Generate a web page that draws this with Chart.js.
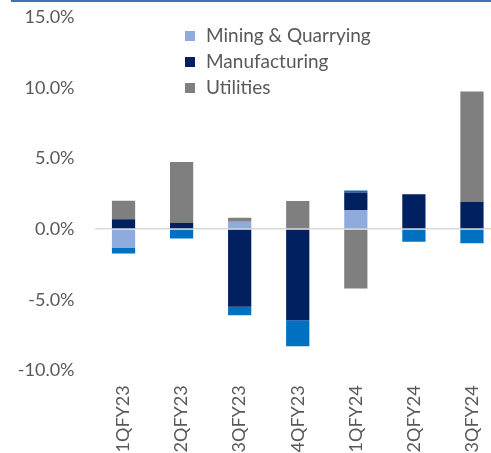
<!DOCTYPE html>
<html>
<head>
<meta charset="utf-8">
<script src="https://cdn.jsdelivr.net/npm/chart.js@4"></script>
<style>
    body { margin: 0; overflow: hidden; background: #fff; font-family: Lato, sans-serif; }
    .topline { position: absolute; left: 11px; top: 0; width: 480px; height: 2px; background: #4170B8; }
    .wrap { position: absolute; left: 0; top: 0; width: 520px; height: 453px; }
    .legend { position: absolute; left: 185px; top: 23px; font-size: 19px; color: #595959; }
    .legend div { height: 26px; line-height: 24px; white-space: nowrap; }
    .legend span { display: inline-block; width: 10px; height: 10px; margin-right: 11px; vertical-align: 1px; }
</style>
</head>
<body>
<div class="topline"></div>
<div class="wrap"><canvas id="chart" width="520" height="453"></canvas></div>
<div class="legend" id="legend"></div>
<script>
    const quarters = ['1QFY23', '2QFY23', '3QFY23', '4QFY23', '1QFY24', '2QFY24', '3QFY24'];

    // growth contributions, % points
    const mining = [-1.3, 0, 0.52, 0, 1.35, 0, 0];
    const manufacturing = [0.69, 0.43, -5.5, -6.45, 1.25, 2.46, 1.94];
    const utilities = [1.32, 4.33, 0.28, 1.99, -4.2, 0, 7.8];
    const others = [-0.43, -0.66, -0.61, -1.84, 0.14, -0.9, -1.01];

    const seriesNames = ['Mining & Quarrying', 'Manufacturing', 'Utilities', 'Others'];
    const colors = ['#8FAADC', '#002060', '#7F7F7F', '#0070C0'];
    const inLegend = [true, true, true, false];

    const datasets = [mining, manufacturing, utilities, others].map((data, i) => ({
        label: seriesNames[i],
        data: data,
        backgroundColor: colors[i],
        borderWidth: 0,
        categoryPercentage: 0.8,
        barPercentage: 0.5,
    }));

    // legend as plain html
    const legend = document.getElementById('legend');
    seriesNames.forEach((name, i) => {
        if (!inLegend[i]) return;
        const row = document.createElement('div');
        row.innerHTML = '<span style="background:' + colors[i] + '"></span>' + name;
        legend.appendChild(row);
    });

    const ctx = document.getElementById('chart').getContext('2d');
    new Chart(ctx, {
        type: 'bar',
        data: { labels: quarters, datasets: datasets },
        options: {
            responsive: false,
            animation: false,
            layout: { padding: { top: 17.3, right: 19, bottom: 0, left: 0 } },
            plugins: { legend: { display: false }, tooltip: { enabled: false } },
            scales: {
                x: {
                    stacked: true,
                    grid: { display: false },
                    border: { display: false },
                    ticks: {
                        color: '#595959',
                        font: { family: 'Lato', size: 18 },
                        minRotation: 90,
                        maxRotation: 90,
                        padding: 7,
                    },
                    afterFit: (scale) => { scale.height = 82.7; },
                },
                y: {
                    stacked: true,
                    min: -10,
                    max: 15,
                    border: { display: false },
                    grid: {
                        // invisible tick marks give the label gap without adding top padding
                        drawTicks: true,
                        tickLength: 20,
                        tickColor: 'rgba(0,0,0,0)',
                        lineWidth: 1.5,
                        color: (c) => (c.tick && c.tick.value === 0 ? '#D9D9D9' : 'rgba(0,0,0,0)'),
                    },
                    ticks: {
                        stepSize: 5,
                        padding: 0,
                        color: '#595959',
                        font: { family: 'Lato', size: 18 },
                        callback: (v) => v.toFixed(1) + '%',
                    },
                    afterFit: (scale) => { scale.width = 94.5; },
                },
            },
        },
    });
</script>
</body>
</html>
